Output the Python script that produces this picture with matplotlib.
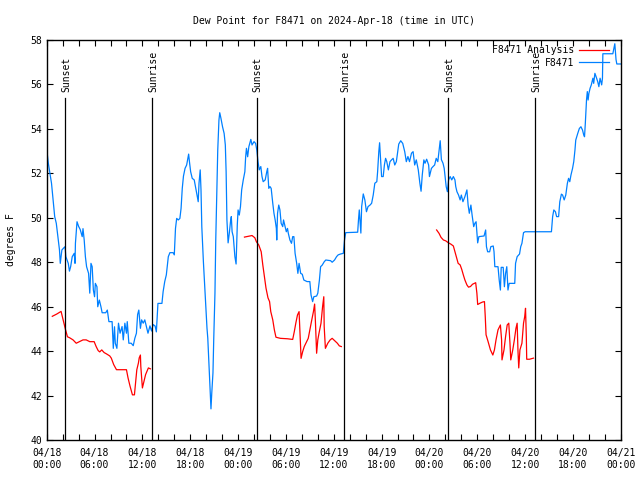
import numpy as np
import matplotlib
matplotlib.use("Agg")
import matplotlib.pyplot as plt

# hours since 04/18 00:00 UTC
blue_hours = [0.0, 0.2, 0.4, 0.6, 0.8, 1.0, 1.2, 1.4, 1.6, 1.7, 1.9, 2.1, 2.3, 2.4, 2.7, 2.85, 3.0, 3.2,
              3.45, 3.55, 3.6, 3.8, 4.0, 4.2, 4.45, 4.55, 4.7, 4.85, 5.0, 5.25, 5.4, 5.55, 5.7, 5.85, 6.0,
              6.1, 6.3, 6.4, 6.6, 6.8, 6.95, 7.4, 7.6, 7.8, 8.2, 8.35, 8.5, 8.6, 8.8, 9.0, 9.2, 9.45, 9.6,
              9.8, 10.0, 10.1, 10.3, 10.6, 10.85, 11.05, 11.25, 11.4, 11.55, 11.75, 11.9, 12.1, 12.3, 12.5,
              12.7, 12.95, 13.15, 13.35, 13.6, 13.75, 13.9, 13.95, 14.45, 14.6, 14.8, 15.0, 15.25, 15.45,
              15.85, 16.0, 16.15, 16.3, 16.5, 16.7, 16.85, 17.0, 17.15, 17.35, 17.55, 17.7, 17.8, 17.9,
              18.05, 18.25, 18.5, 18.7, 18.85, 19.0, 19.1, 19.25, 19.35, 19.45, 19.65, 19.8, 19.95, 20.1,
              20.2, 20.3, 20.45, 20.5, 20.6, 20.7, 20.85, 20.95, 21.1, 21.2, 21.35, 21.45, 21.6, 21.7,
              21.85, 22.05, 22.25, 22.4, 22.5, 22.6, 22.75, 22.9, 23.05, 23.15, 23.25, 23.4, 23.6, 23.75,
              23.9, 24.0, 24.15, 24.3, 24.45, 24.65, 24.85, 24.95, 25.05, 25.2, 25.35, 25.6, 25.75, 26.0,
              26.2, 26.35, 26.5, 26.65, 26.85, 27.0, 27.15, 27.4, 27.6, 27.7, 27.85, 28.0, 28.15, 28.35,
              28.5, 28.65, 28.8, 28.85, 28.95, 29.1, 29.25, 29.4, 29.6, 29.7, 29.85, 30.05, 30.2, 30.3,
              30.5, 30.7, 30.85, 31.0, 31.15, 31.35, 31.5, 31.65, 31.85, 32.05, 32.25, 32.65, 33.0, 33.15,
              33.35, 33.5, 33.85, 34.0, 34.2, 34.35, 34.55, 34.8, 35.0, 35.6, 35.8, 36.1, 36.35, 36.55,
              36.85, 37.2, 37.35, 37.5, 39.0, 39.1, 39.2, 39.4, 39.5, 39.7, 39.9, 40.1, 40.3, 40.55, 40.75,
              40.95, 41.15, 41.4, 41.5, 41.65, 41.75, 41.85, 42.0, 42.2, 42.35, 42.5, 42.65, 42.85, 43.05,
              43.25, 43.45, 43.65, 43.85, 44.0, 44.15, 44.4, 44.65, 44.9, 45.1, 45.3, 45.5, 45.75, 45.95,
              46.15, 46.35, 46.6, 46.8, 46.95, 47.1, 47.3, 47.45, 47.65, 47.9, 48.0, 48.25, 48.45, 48.65,
              48.85, 49.05, 49.2, 49.35, 49.5, 49.7, 49.85, 50.1, 50.25, 50.4, 50.6, 50.8, 51.0, 51.2,
              51.3, 51.45, 51.65, 51.85, 52.0, 52.2, 52.45, 52.7, 52.85, 53.0, 53.2, 53.35, 53.55, 53.7,
              53.85, 54.05, 54.2, 54.85, 55.05, 55.15, 55.3, 55.55, 55.7, 56.0, 56.1, 56.2, 56.6, 56.75,
              56.9, 57.0, 57.25, 57.4, 57.55, 57.7, 57.85, 58.0, 58.7, 58.8, 59.0, 59.3, 59.45, 59.6, 59.8,
              60.0, 63.3, 63.45, 63.6, 63.8, 63.95, 64.2, 64.35, 64.55, 64.7, 64.9, 65.1, 65.3, 65.45,
              65.6, 65.75, 65.95, 66.1, 66.25, 66.35, 66.6, 66.8, 67.0, 67.2, 67.35, 67.45, 67.55, 67.7,
              67.8, 67.9, 68.0, 68.15, 68.3, 68.5, 68.6, 68.75, 68.9, 69.1, 69.25, 69.4, 69.6, 69.7, 69.75,
              71.0, 71.15, 71.25, 71.4, 71.5, 72.0]
blue_dewpt = [53.07, 52.44, 51.99, 51.54, 50.79, 50.04, 49.74, 49.14, 48.54, 47.94, 48.54, 48.62, 48.69,
              48.24, 47.94, 47.59, 47.79, 48.24, 48.39, 47.94, 48.84, 49.81, 49.6, 49.46, 49.14, 49.5,
              48.99, 48.24, 47.79, 47.49, 46.6, 47.94, 47.79, 46.74, 46.44, 47.04, 46.89, 45.99, 46.29,
              45.99, 45.72, 45.72, 45.84, 45.32, 45.32, 44.12, 45.09, 44.35, 44.12, 45.25, 44.8, 45.1,
              44.5, 45.25, 44.8, 45.32, 44.35, 44.35, 44.24, 44.57, 44.8, 45.64, 45.84, 45.02, 45.4,
              45.25, 45.4, 45.1, 44.8, 45.13, 44.9, 45.19, 45.12, 44.86, 45.84, 46.14, 46.14, 46.67,
              47.12, 47.42, 48.24, 48.42, 48.42, 48.32, 49.51, 49.96, 49.89, 49.96, 50.41, 51.31, 51.86,
              52.21, 52.36, 52.66, 52.85, 52.51, 52.06, 51.76, 51.69, 51.31, 51.01, 50.71, 51.54, 52.14,
              51.24, 49.59, 48.01, 47.04, 45.99, 45.03, 44.58, 43.76, 42.63, 42.11, 41.4, 42.11, 43.02,
              44.58, 46.6, 48.99, 51.31, 53.03, 54.38, 54.71, 54.46, 54.08, 53.78, 53.26, 52.06, 49.89,
              48.86, 49.3, 49.81, 50.04, 49.36, 49.14, 48.24, 47.91, 49.66, 50.34, 50.11, 50.49, 51.24,
              51.69, 52.06, 52.73, 53.11, 52.73, 53.18, 53.51, 53.26, 53.41, 53.33, 53.03, 52.51, 52.14,
              52.29, 51.84, 51.61, 51.69, 52.06, 52.21, 51.31, 51.39, 51.31, 50.64, 50.19, 49.89, 49.51,
              48.99, 50.19, 50.56, 50.34, 49.74, 49.59, 49.89, 49.66, 49.36, 49.51, 49.29, 48.99, 48.84,
              49.14, 49.14, 48.39, 47.94, 47.49, 47.94, 47.49, 47.45, 47.19, 47.12, 47.12, 46.52, 46.22,
              46.44, 46.47, 46.6, 47.19, 47.79, 47.86, 48.01, 48.09, 48.06, 47.99, 48.09, 48.24, 48.32,
              48.36, 48.39, 48.99, 49.32, 49.34, 49.89, 50.34, 49.3, 50.49, 51.06, 50.79, 50.26, 50.49,
              50.56, 50.64, 51.01, 51.54, 51.61, 52.06, 52.96, 53.36, 52.74, 51.84, 51.84, 52.36, 52.66,
              52.51, 52.14, 52.51, 52.59, 52.66, 52.36, 52.51, 52.89, 53.3, 53.45, 53.33, 52.96, 52.51,
              52.74, 52.51, 52.89, 52.96, 52.36, 52.59, 52.14, 51.54, 51.18, 51.91, 52.59, 52.44, 52.62,
              52.36, 51.84, 52.21, 52.29, 52.36, 52.66, 52.51, 53.0, 53.45, 52.6, 52.44, 52.21, 51.39,
              51.16, 51.69, 51.84, 51.69, 51.84, 51.69, 51.39, 51.16, 51.01, 50.79, 51.01, 50.71, 50.94,
              51.24, 50.56, 50.19, 50.56, 50.11, 49.59, 49.74, 49.81, 48.86, 49.14, 49.17, 49.44, 48.69,
              48.46, 48.46, 48.69, 48.72, 48.46, 47.79, 47.79, 47.19, 46.74, 47.76, 47.76, 46.89, 47.49,
              47.79, 46.74, 47.04, 47.04, 47.94, 48.24, 48.36, 48.69, 48.84, 49.32, 49.36, 49.36, 50.04,
              50.34, 50.26, 50.04, 50.04, 50.71, 51.05, 51.01, 50.79, 51.01, 51.54, 51.76, 51.61, 51.91,
              52.21, 52.51, 53.03, 53.48, 53.78, 54.0, 54.08, 53.93, 53.71, 53.63, 54.23, 55.28, 55.66,
              55.28, 55.58, 55.81, 55.96, 56.26, 56.03, 56.48, 56.33, 56.11, 55.88, 56.26, 55.96, 56.26,
              57.36, 57.36, 57.63, 57.81, 57.1, 56.9, 56.9]

# analysis series, NaN = gap between runs
red_hours = [0.7, 1.25, 1.8, 1.95, 2.15, 2.35, 2.6, 2.85, 3.3, 3.7, 4.1, 4.55, 4.95, 5.4, 5.95, 6.2, 6.45,
             6.65, 6.9, 7.2, 7.5, 7.9, 8.1, 8.4, 8.75, 10.0, 10.2, 10.45, 10.75, 11.0, 11.15, 11.3, 11.5,
             11.6, 11.75, 11.8, 12.0, 12.2, 12.4, 12.75, 13.0, np.nan,
             24.8, 25.35, 25.75, 26.1, 26.3, 26.6, 26.9, 27.1, 27.3, 27.5, 27.75, 27.95, 28.1, 28.35,
             28.55, 28.75, 29.3, 30.2, 30.85, 31.05, 31.25, 31.45, 31.65, 31.9, 32.1, 32.3, 32.5, 32.8,
             33.0, 33.2, 33.45, 33.6, 33.7, 33.85, 34.0, 34.15, 34.4, 34.6, 34.75, 34.8, 34.95, 35.25,
             35.55, 35.8, 36.1, 36.45, 36.7, 36.95, np.nan,
             48.9, 49.2, 49.45, 49.75, 50.05, 50.35, 50.7, 51.0, 51.2, 51.4, 51.6, 51.85, 52.05, 52.25,
             52.45, 52.7, 52.9, 53.15, 53.4, 53.8, 53.95, 54.05, 54.35, 54.65, 54.9, 55.0, 55.1, 55.35,
             55.65, 55.95, 56.15, 56.35, 56.6, 56.9, 57.05, 57.1, 57.35, 57.55, 57.75, 57.95, 58.1, 58.2,
             58.45, 58.65, 58.85, 59.0, 59.1, 59.2, 59.35, 59.6, 59.8, 59.95, 60.05, 60.15, 60.2, 60.55,
             61.05]
red_dewpt = [45.56, 45.66, 45.78, 45.56, 45.25, 44.97, 44.64, 44.6, 44.5, 44.35, 44.42, 44.5, 44.5, 44.42,
             44.42, 44.2, 44.02, 43.96, 44.05, 43.93, 43.87, 43.78, 43.68, 43.39, 43.16, 43.16, 42.79,
             42.42, 42.03, 42.03, 42.57, 43.16, 43.46, 43.69, 43.82, 43.31, 42.34, 42.64, 42.94, 43.24,
             43.2, np.nan,
             49.12, 49.16, 49.19, 49.09, 48.91, 48.76, 48.46, 47.87, 47.34, 46.83, 46.39, 46.22, 45.77,
             45.4, 44.95, 44.62, 44.57, 44.55, 44.52, 44.87, 45.27, 45.62, 45.77, 43.67, 43.97, 44.2,
             44.35, 44.57, 44.95, 45.32, 45.77, 46.11, 45.32, 43.9, 44.5, 44.8, 45.25, 46.0, 46.44, 45.1,
             44.12, 44.35, 44.5, 44.57, 44.47, 44.35, 44.23, 44.2, np.nan,
             49.44, 49.29, 49.11, 48.99, 48.95, 48.87, 48.8, 48.72, 48.46, 48.21, 47.94, 47.87, 47.67,
             47.42, 47.19, 46.97, 46.87, 46.9, 47.0, 47.07, 46.6, 46.09, 46.15, 46.2, 46.22, 45.55, 44.73,
             44.43, 44.05, 43.82, 44.05, 44.5, 44.95, 45.17, 44.5, 43.6, 44.05, 44.65, 45.17, 45.25,
             44.35, 43.6, 44.05, 44.5, 45.02, 45.25, 44.05, 43.24, 44.05, 44.35, 45.25, 45.55, 45.92,
             44.65, 43.63, 43.63, 43.68]

sun_hours = [2.33, 13.24, 26.33, 37.31, 50.35, 61.26]
sun_labels = ["Sunset", "Sunrise", "Sunset", "Sunrise", "Sunset", "Sunrise"]

tick_hours = list(range(0, 73, 6))
tick_labels = ["04/18\n00:00", "04/18\n06:00", "04/18\n12:00", "04/18\n18:00",
               "04/19\n00:00", "04/19\n06:00", "04/19\n12:00", "04/19\n18:00",
               "04/20\n00:00", "04/20\n06:00", "04/20\n12:00", "04/20\n18:00",
               "04/21\n00:00"]

plt.rcParams['font.family'] = ['DejaVu Sans Mono']
plt.rcParams['font.size'] = 7

fig = plt.figure(figsize=(6.4, 4.8), dpi=100)
ax = fig.add_axes([0.073, 0.0833, 0.897, 0.8344])

ax.plot(red_hours, red_dewpt, color="#ff0000", lw=0.9, label="F8471 Analysis")
ax.plot(blue_hours, blue_dewpt, color="#0080ff", lw=0.9, label="F8471")

for h, lab in zip(sun_hours, sun_labels):
    ax.plot([h, h], [40, 55.37], color="black", lw=0.9)
    ax.text(h + 0.1, 55.64, lab, rotation=90, ha="center", va="bottom", fontsize=7)

ax.set_xlim(0, 72)
ax.set_ylim(40, 58)
ax.set_xticks(tick_hours)
ax.set_xticklabels(tick_labels)
ax.set_xticks(range(0, 73, 2), minor=True)
ax.set_yticks(range(40, 59, 2))
ax.tick_params(which="both", direction="in", top=True, right=True, length=4, width=0.8)
ax.tick_params(axis="x", which="major", pad=6)
for s in ax.spines.values():
    s.set_linewidth(1.0)

ax.set_ylabel("degrees F", labelpad=10)
ax.set_title("Dew Point for F8471 on 2024-Apr-18 (time in UTC)", fontsize=7, pad=11)
ax.legend(loc="upper right", bbox_to_anchor=(0.99, 1.0), frameon=False, markerfirst=False,
          fontsize=7, handlelength=3.1, borderaxespad=0.2, labelspacing=0.25, handletextpad=0.5)

fig.savefig("out.png", dpi=100)
